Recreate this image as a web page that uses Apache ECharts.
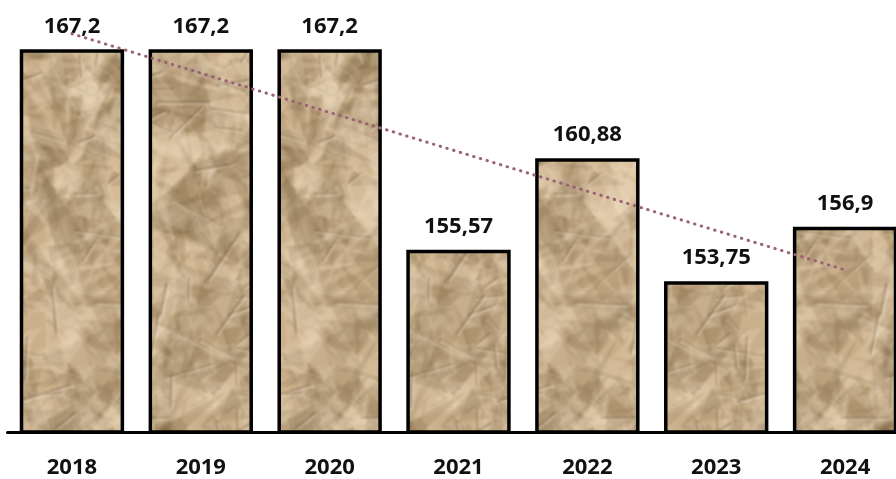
<!DOCTYPE html>
<html><head><meta charset="utf-8">
<script src="https://cdn.jsdelivr.net/npm/echarts@6/dist/echarts.min.js"></script>
<style>html,body{margin:0;padding:0;background:#fff;overflow:hidden;width:896px;height:479px}#c{width:910px;height:479px}</style>
</head><body><div id="c"></div>
<script>
const categories = ['2018','2019','2020','2021','2022','2023','2024'];
const values = [167.2, 167.2, 167.2, 155.57, 160.88, 153.75, 156.9];
// trend line end points (first and last category)
const trend = [168.1, null, null, null, null, null, 154.4];

// crumpled paper texture (decorative only), seamless tile
function makeTexture(){
  const W=240,H=420;
  const raw=document.createElement('canvas');raw.width=W;raw.height=H;
  const g=raw.getContext('2d');
  let s=98765;function rnd(){s|=0;s=s+0x6D2B79F5|0;let t=Math.imul(s^s>>>15,1|s);t=t+Math.imul(t^t>>>7,61|t)^t;return((t^t>>>14)>>>0)/4294967296;}
  g.fillStyle='#cbb08c';g.fillRect(0,0,W,H);
  function wrap(fn){for(const dx of [-W,0,W])for(const dy of [-H,0,H])fn(dx,dy);}
  for(let i=0;i<600;i++){
    const x=rnd()*W,y=rnd()*H,r=12+rnd()*40;
    const light=rnd()<0.5;
    const pts=[];for(let k=0;k<3;k++){const a=rnd()*Math.PI*2;pts.push([x+Math.cos(a)*r,y+Math.sin(a)*r]);}
    g.fillStyle=light?'rgba(240,224,198,0.22)':'rgba(115,88,56,0.17)';
    wrap((dx,dy)=>{g.beginPath();pts.forEach((p,k)=>k?g.lineTo(p[0]+dx,p[1]+dy):g.moveTo(p[0]+dx,p[1]+dy));g.closePath();g.fill();});
  }
  for(let i=0;i<80;i++){
    const x=rnd()*W,y=rnd()*H,a=rnd()*Math.PI*2,l=15+rnd()*45,lw=1+rnd()*1.5;
    const x2=x+Math.cos(a)*l,y2=y+Math.sin(a)*l;
    wrap((dx,dy)=>{
      g.lineWidth=lw;
      g.strokeStyle='rgba(100,76,50,0.38)';
      g.beginPath();g.moveTo(x+dx,y+dy);g.lineTo(x2+dx,y2+dy);g.stroke();
      g.strokeStyle='rgba(248,236,214,0.42)';
      g.beginPath();g.moveTo(x+dx+1.5,y+dy+1.5);g.lineTo(x2+dx+1.5,y2+dy+1.5);g.stroke();
    });
  }
  const tile=document.createElement('canvas');tile.width=W*3;tile.height=H*3;
  const tg=tile.getContext('2d');for(let i=0;i<3;i++)for(let j=0;j<3;j++)tg.drawImage(raw,i*W,j*H);
  const big=document.createElement('canvas');big.width=W*3;big.height=H*3;
  const b=big.getContext('2d');b.filter='blur(1px)';b.drawImage(tile,0,0);
  const out=document.createElement('canvas');out.width=W;out.height=H;
  out.getContext('2d').drawImage(big,W,H,W,H,0,0,W,H);
  return out;
}
const tex=makeTexture();

const chart=echarts.init(document.getElementById('c'),null,{renderer:'canvas'});
chart.setOption({
  animation:false,
  grid:{left:7.5,right:0.5,top:32,bottom:47,containLabel:false},
  xAxis:{type:'category',data:categories,
    axisLine:{lineStyle:{color:'#000',width:3}},
    axisTick:{show:false},
    axisLabel:{color:'#111',fontSize:22,fontWeight:'bold',fontFamily:'Open Sans',margin:25}},
  yAxis:{type:'value',min:145,max:168.2,show:false,splitLine:{show:false}},
  series:[
    {type:'bar',data:values,barCategoryGap:'19%',
      itemStyle:{color:{image:tex,repeat:'repeat'},borderColor:'#000',borderWidth:3.5},
      label:{show:true,position:'top',distance:12,color:'#111',fontSize:22,fontWeight:'bold',fontFamily:'Open Sans',
        formatter:p=>String(p.value).replace('.',',')}},
    {type:'line',data:trend,connectNulls:true,symbol:'none',z:5,
      lineStyle:{color:'#9a6272',width:3,type:[0.5,6.5],cap:'round'}}
  ]
});
</script></body></html>
